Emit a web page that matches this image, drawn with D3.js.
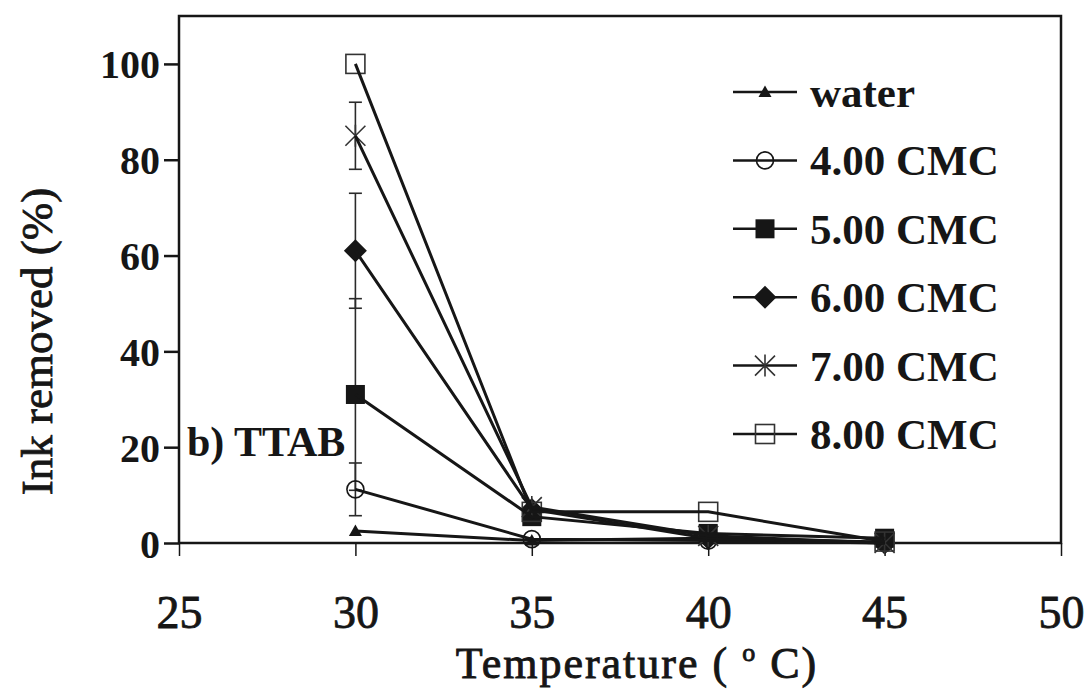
<!DOCTYPE html>
<html>
<head>
<meta charset="utf-8">
<script src="https://cdn.jsdelivr.net/npm/d3@7"></script>
<style>
  body { margin: 0; background: #fff; }
  svg { display: block; }
  text { font-family: "Liberation Serif", "Times New Roman", serif; fill: #161616; }
</style>
</head>
<body>
<svg id="chart" width="1086" height="691"></svg>
<script>
// Temperatures measured (°C)
const temperatures = [30, 35, 40, 45];

// Ink removed (%) for each wash liquor
const water   = [2.5, 0.5, 1.0, 0.2];
const cmc400  = [11.2, 0.8, 0.5, 0.0];
const cmc500  = [31, 5.5, 2.0, 1.0];
const cmc600  = [61, 7.0, 1.0, 0.0];
const cmc700  = [85, 7.5, 1.5, 0.0];
const cmc800  = [100, 6.5, 6.5, 0.3];

// Standard deviations (%)
const errWater  = [0, 0, 0, 0];
const err400    = [5.5, 0, 0, 0];
const err500    = [20, 0, 0, 0];
const err600    = [12, 0, 0, 0];
const err700    = [7, 0, 0, 0];
const err800    = [0, 0, 0, 0];

const seriesLabels = ["water", "4.00 CMC", "5.00 CMC", "6.00 CMC", "7.00 CMC", "8.00 CMC"];
const seriesMarkers = ["triangle", "circle", "square", "diamond", "asterisk", "openSquare"];

const xTicks = [25, 30, 35, 40, 45, 50];
const yTicks = [0, 20, 40, 60, 80, 100];
const xDomain = [25, 50];
const yDomain = [0, 110];

const series = [
  { label: seriesLabels[0], marker: seriesMarkers[0], values: water,  errors: errWater },
  { label: seriesLabels[1], marker: seriesMarkers[1], values: cmc400, errors: err400 },
  { label: seriesLabels[2], marker: seriesMarkers[2], values: cmc500, errors: err500 },
  { label: seriesLabels[3], marker: seriesMarkers[3], values: cmc600, errors: err600 },
  { label: seriesLabels[4], marker: seriesMarkers[4], values: cmc700, errors: err700 },
  { label: seriesLabels[5], marker: seriesMarkers[5], values: cmc800, errors: err800 }
];

const svg = d3.select("#chart");
const plot = { left: 179, right: 1061, top: 16, bottom: 543 };
const ink = "#161616";

const x = d3.scaleLinear().domain(xDomain).range([plot.left, plot.right]);
const y = d3.scaleLinear().domain(yDomain).range([plot.bottom, plot.top]);

// Frame around the plotting area
svg.append("rect")
  .attr("x", plot.left).attr("y", plot.top)
  .attr("width", plot.right - plot.left).attr("height", plot.bottom - plot.top)
  .attr("fill", "none").attr("stroke", ink).attr("stroke-width", 2.5);

// Axes
const xAxis = svg.append("g")
  .attr("transform", `translate(0,${plot.bottom})`)
  .call(d3.axisBottom(x).tickValues(xTicks).tickSize(13).tickFormat(d3.format("d")));
xAxis.select(".domain").remove();
xAxis.selectAll("line").attr("stroke", ink).attr("stroke-width", 1.5);
xAxis.selectAll("text")
  .attr("y", 85).attr("dy", 0)
  .attr("font-size", 46).attr("font-weight", "normal").attr("fill", ink)
  .attr("stroke", ink).attr("stroke-width", 0.8);

const yAxis = svg.append("g")
  .attr("transform", `translate(${plot.left},0)`)
  .call(d3.axisLeft(y).tickValues(yTicks).tickSize(15).tickPadding(4).tickFormat(d3.format("d")));
yAxis.select(".domain").remove();
yAxis.selectAll("line").attr("stroke", ink).attr("stroke-width", 2.5);
yAxis.selectAll("text")
  .attr("font-size", 40).attr("font-weight", "bold").attr("fill", ink)
  .attr("dy", "0.35em");

// Axis titles
const xTitle = svg.append("text")
  .attr("x", (plot.left + plot.right) / 2 + 17).attr("y", 678)
  .attr("text-anchor", "middle").attr("font-size", 44).attr("font-weight", "normal")
  .attr("letter-spacing", 2).attr("stroke", ink).attr("stroke-width", 0.9);
xTitle.append("tspan").text("Temperature ( ");
xTitle.append("tspan").attr("font-size", 26).attr("dy", -17).text("o");
xTitle.append("tspan").attr("dy", 17).text(" C)");

svg.append("text")
  .attr("transform", `translate(52,${(plot.top + plot.bottom) / 2 + 62}) rotate(-90)`)
  .attr("text-anchor", "middle").attr("font-size", 45).attr("font-weight", "normal")
  .attr("stroke", ink).attr("stroke-width", 0.8)
  .text("Ink removed (%)");

// Panel tag
svg.append("text")
  .attr("x", 187).attr("y", 456)
  .attr("font-size", 42).attr("font-weight", "bold")
  .text("b) TTAB");

// Marker drawing
function drawMarker(g, type) {
  const s = 9.5;
  if (type === "triangle") {
    g.append("path").attr("d", "M0,-6.5L6.5,5L-6.5,5Z").attr("fill", ink);
  } else if (type === "circle") {
    g.append("circle").attr("r", 8.5).attr("fill", "none").attr("stroke", ink).attr("stroke-width", 1.6);
  } else if (type === "square") {
    g.append("rect").attr("x", -s).attr("y", -s).attr("width", 2 * s).attr("height", 2 * s).attr("fill", ink);
  } else if (type === "diamond") {
    g.append("path").attr("d", "M0,-11.5L11.5,0L0,11.5L-11.5,0Z").attr("fill", ink);
  } else if (type === "asterisk") {
    g.append("path").attr("d", "M-10,-10L10,10M-10,10L10,-10M0,-11L0,11")
      .attr("stroke", "#333").attr("stroke-width", 1.6).attr("fill", "none");
  } else if (type === "openSquare") {
    g.append("rect").attr("x", -s).attr("y", -s).attr("width", 2 * s).attr("height", 2 * s)
      .attr("fill", "none").attr("stroke", "#333").attr("stroke-width", 1.6);
  }
}

const line = d3.line().x(d => x(d.t)).y(d => y(d.v));
const plotG = svg.append("g");

// Error bars
series.forEach(sr => {
  sr.values.forEach((v, i) => {
    const e = sr.errors[i];
    if (!e) return;
    const cx = x(temperatures[i]);
    const g = plotG.append("g").attr("stroke", "#2a2a2a").attr("stroke-width", 1.6);
    g.append("line").attr("x1", cx).attr("x2", cx).attr("y1", y(v - e)).attr("y2", y(v + e));
    g.append("line").attr("x1", cx - 6.5).attr("x2", cx + 6.5).attr("y1", y(v + e)).attr("y2", y(v + e));
    g.append("line").attr("x1", cx - 6.5).attr("x2", cx + 6.5).attr("y1", y(v - e)).attr("y2", y(v - e));
  });
});

// Markers
series.forEach(sr => {
  sr.values.forEach((v, i) => {
    const g = plotG.append("g").attr("transform", `translate(${x(temperatures[i])},${y(v)})`);
    drawMarker(g, sr.marker);
  });
});

// Connecting lines
series.forEach(sr => {
  const pts = sr.values.map((v, i) => ({ t: temperatures[i], v }));
  plotG.append("path").datum(pts).attr("d", line)
    .attr("fill", "none").attr("stroke", ink).attr("stroke-width", 3);
});

// Legend
const legend = svg.append("g");
const legendRowY = d3.scalePoint().domain(seriesLabels).range([92, 434]);
seriesLabels.forEach((lab, i) => {
  const cy = legendRowY(lab);
  const g = legend.append("g").attr("transform", `translate(0,${cy})`);
  g.append("line").attr("x1", 733).attr("x2", 797).attr("y1", 0).attr("y2", 0)
    .attr("stroke", ink).attr("stroke-width", 2.5);
  const m = g.append("g").attr("transform", "translate(765,0)");
  drawMarker(m, seriesMarkers[i]);
  g.append("text").attr("x", 810).attr("y", 0).attr("dy", "0.35em")
    .attr("font-size", 43).attr("font-weight", "bold").text(lab);
});
</script>
</body>
</html>
